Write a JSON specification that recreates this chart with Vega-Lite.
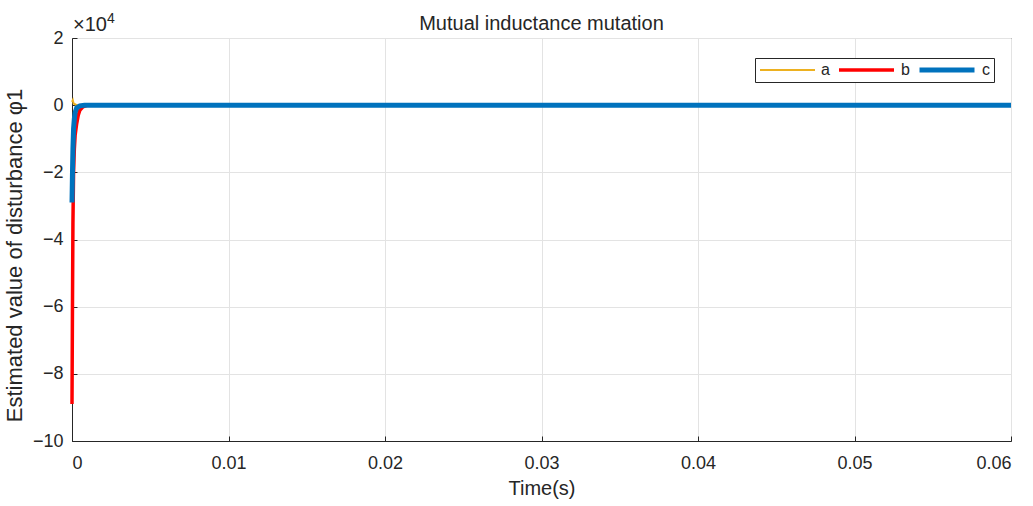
{
  "$schema": "https://vega.github.io/schema/vega-lite/v6.json",
  "width": 939,
  "height": 403,
  "autosize": "none",
  "padding": {"left": 72, "top": 38, "right": 22, "bottom": 65},
  "background": "white",
  "title": {"text": "Mutual inductance mutation", "fontSize": 20, "font": "Liberation Sans", "fontWeight": "normal", "color": "#262626", "offset": -22},
  "config": {
    "view": {"stroke": "#262626", "strokeWidth": 1},
    "axis": {"labelFont": "Liberation Sans", "titleFont": "Liberation Sans", "labelColor": "#262626", "titleColor": "#262626", "labelFontSize": 18, "titleFontSize": 20, "titleFontWeight": "normal", "gridColor": "#e3e3e3", "gridOpacity": 1, "domainColor": "#262626", "tickColor": "#262626", "tickSize": -5}
  },
  "datasets": {
    "curves": [
      {"t": 0, "v": 0.1, "series": "a"},
      {"t": 0.00005, "v": 0.15, "series": "a"},
      {"t": 0.0001, "v": 0.05, "series": "a"},
      {"t": 0.0003, "v": 0, "series": "a"},
      {"t": 0.06, "v": 0, "series": "a"},
      {"t": 0, "v": -8.9, "series": "b"},
      {"t": 0.00003, "v": -6.0, "series": "b"},
      {"t": 0.00006, "v": -3.5, "series": "b"},
      {"t": 0.0001, "v": -2.0, "series": "b"},
      {"t": 0.00015, "v": -1.3, "series": "b"},
      {"t": 0.0002, "v": -0.9, "series": "b"},
      {"t": 0.0003, "v": -0.55, "series": "b"},
      {"t": 0.0004, "v": -0.3, "series": "b"},
      {"t": 0.0005, "v": -0.15, "series": "b"},
      {"t": 0.0007, "v": -0.05, "series": "b"},
      {"t": 0.001, "v": 0, "series": "b"},
      {"t": 0.06, "v": 0, "series": "b"},
      {"t": 0, "v": -2.9, "series": "c"},
      {"t": 0.00003, "v": -2.0, "series": "c"},
      {"t": 0.00006, "v": -1.3, "series": "c"},
      {"t": 0.0001, "v": -0.7, "series": "c"},
      {"t": 0.00015, "v": -0.4, "series": "c"},
      {"t": 0.0002, "v": -0.22, "series": "c"},
      {"t": 0.0003, "v": -0.08, "series": "c"},
      {"t": 0.0005, "v": -0.02, "series": "c"},
      {"t": 0.0008, "v": 0, "series": "c"},
      {"t": 0.06, "v": 0, "series": "c"}
    ],
    "note": [{"t": 0, "v": 2, "base": "×10", "exp": "4"}]
  },
  "layer": [
    {
      "data": {"name": "curves"},
      "mark": {"type": "line", "interpolate": "linear", "strokeCap": "butt"},
      "encoding": {
        "x": {"field": "t", "type": "quantitative", "scale": {"domain": [0, 0.06], "nice": false, "zero": false},
              "axis": {"title": "Time(s)", "values": [0, 0.01, 0.02, 0.03, 0.04, 0.05, 0.06], "format": ".2~f", "labelPadding": 18, "titlePadding": 6}},
        "y": {"field": "v", "type": "quantitative", "scale": {"domain": [-10, 2], "nice": false},
              "axis": {"title": "Estimated value of disturbance φ1", "titleFontSize": 22, "titleY": 217, "values": [-10, -8, -6, -4, -2, 0, 2], "labelPadding": 14, "titlePadding": 6}},
        "color": {"field": "series", "type": "nominal", "scale": {"domain": ["a", "b", "c"], "range": ["#EDB120", "#FF0000", "#0072BD"]},
                  "legend": {"title": null, "orient": "none", "legendX": 683, "legendY": 20, "direction": "horizontal", "symbolType": "stroke", "symbolSize": 3025, "clipHeight": 16, "labelFont": "Liberation Sans", "labelFontSize": 16, "labelColor": "#262626", "strokeColor": "#262626", "fillColor": "white", "padding": 4, "columnPadding": 7, "labelOffset": 5}},
        "strokeWidth": {"field": "series", "type": "nominal", "scale": {"domain": ["a", "b", "c"], "range": [2, 5, 5]}, "legend": null},
        "order": {"field": "t", "type": "quantitative"}
      }
    },
    {
      "data": {"name": "note"},
      "mark": {"type": "text", "align": "left", "baseline": "bottom", "dx": 1, "dy": -3, "font": "Liberation Sans", "fontSize": 20, "color": "#262626"},
      "encoding": {
        "x": {"field": "t", "type": "quantitative"},
        "y": {"field": "v", "type": "quantitative"},
        "text": {"field": "base"}
      }
    },
    {
      "data": {"name": "note"},
      "mark": {"type": "text", "align": "left", "baseline": "bottom", "dx": 35, "dy": -12, "font": "Liberation Sans", "fontSize": 14, "color": "#262626"},
      "encoding": {
        "x": {"field": "t", "type": "quantitative"},
        "y": {"field": "v", "type": "quantitative"},
        "text": {"field": "exp"}
      }
    }
  ]
}
